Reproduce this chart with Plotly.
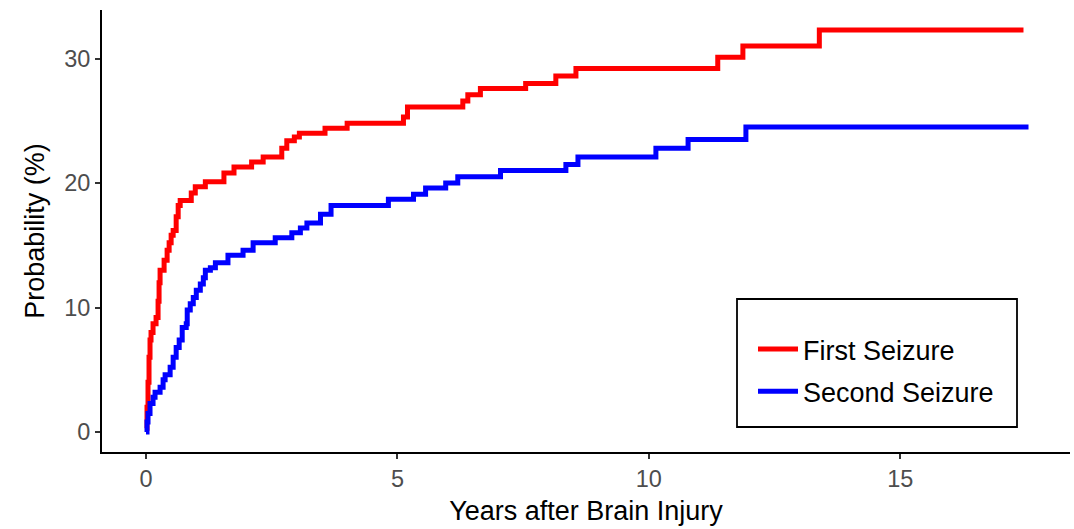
import plotly.graph_objects as go

first_t = [0, 0.02, 0.04, 0.06, 0.08, 0.10, 0.14, 0.20, 0.24, 0.26, 0.28, 0.36, 0.42, 0.46, 0.50, 0.54,
           0.60, 0.64, 0.68, 0.90, 0.98, 1.18, 1.55, 1.75, 2.10, 2.33, 2.70, 2.80, 2.95, 3.05, 3.56,
           4.00, 5.12, 5.20, 6.30, 6.40, 6.65, 7.55, 8.15, 8.55, 11.37, 11.87, 13.39, 17.45]
first_v = [0.3, 2.0, 4.0, 6.0, 7.4, 8.0, 8.7, 9.2, 10.5, 12.0, 13.0, 13.8, 14.6, 15.2, 15.8, 16.2,
           17.3, 18.2, 18.6, 19.2, 19.7, 20.1, 20.8, 21.3, 21.7, 22.1, 22.8, 23.4, 23.7, 24.0, 24.4,
           24.8, 25.3, 26.1, 26.6, 27.1, 27.6, 28.0, 28.6, 29.2, 30.1, 31.0, 32.3, 32.3]

second_t = [0, 0.02, 0.04, 0.08, 0.14, 0.18, 0.28, 0.34, 0.38, 0.48, 0.54, 0.60, 0.66, 0.72, 0.80,
            0.82, 0.88, 0.94, 1.00, 1.08, 1.14, 1.18, 1.28, 1.38, 1.63, 1.93, 2.13, 2.57, 2.90, 3.07,
            3.20, 3.47, 3.68, 4.82, 5.32, 5.56, 5.96, 6.20, 7.05, 8.35, 8.59, 10.14, 10.78, 11.93, 17.55]
second_v = [0.0, 0.8, 1.5, 2.3, 2.8, 3.2, 3.6, 4.2, 4.6, 5.2, 6.0, 6.8, 7.4, 8.4, 8.7,
            9.8, 10.3, 10.8, 11.4, 11.9, 12.4, 13.0, 13.2, 13.6, 14.2, 14.6, 15.2, 15.6, 16.0, 16.4,
            16.8, 17.5, 18.2, 18.7, 19.1, 19.6, 20.0, 20.5, 21.0, 21.5, 22.1, 22.8, 23.5, 24.5, 24.5]

x_ticks = [0, 5, 10, 15]
y_ticks = [0, 10, 20, 30]

FONT = "Liberation Sans, Arial, sans-serif"
W, H = 1074, 529
L, R, T, B = 102, 4, 10, 77
PW, PH = W - L - R, H - T - B


def px_x(p):
    return (p - L) / PW


def px_y(p):
    return (H - B - p) / PH


fig = go.Figure()
fig.add_trace(go.Scatter(x=first_t, y=first_v, mode="lines", line_shape="hv",
                         line=dict(color="#ff0000", width=5), name="First Seizure",
                         legendgroup="a"))
fig.add_trace(go.Scatter(x=second_t, y=second_v, mode="lines", line_shape="hv",
                         line=dict(color="#0000ff", width=5), name="Second Seizure",
                         legendgroup="b"))

axis_common = dict(showgrid=False, zeroline=False, showline=True, linecolor="black", linewidth=2,
                   ticks="outside", ticklen=5, tickwidth=1.5, tickcolor="#333333",
                   automargin=False,
                   tickfont=dict(family=FONT, size=23.5, color="#4d4d4d"),
                   title_font=dict(family=FONT, size=27, color="black"))

fig.update_xaxes(range=[-0.875, 18.375], tickvals=x_ticks, title_text="Years after Brain Injury",
                 title_standoff=10, **axis_common)
fig.update_yaxes(range=[-1.6, 33.9], tickvals=y_ticks, title_text="Probability (%)",
                 title_standoff=12, **axis_common)

# legend frame
fig.add_shape(type="rect", xref="paper", yref="paper",
              x0=px_x(737), x1=px_x(1017), y0=px_y(427), y1=px_y(299),
              line=dict(color="black", width=1.8), fillcolor="white", layer="below")

fig.update_layout(
    width=W, height=H,
    margin=dict(l=L, r=R, t=T, b=B),
    plot_bgcolor="white", paper_bgcolor="white",
    legend=dict(x=px_x(753), y=px_y(325), xanchor="left", yanchor="top",
                borderwidth=0, bgcolor="rgba(0,0,0,0)",
                font=dict(family=FONT, size=27, color="black"),
                tracegroupgap=4, itemwidth=40, traceorder="grouped"),
)

fig.write_html("out.html", config={"displayModeBar": False},
               post_script="document.body.style.margin='0';document.body.style.overflow='hidden';")
